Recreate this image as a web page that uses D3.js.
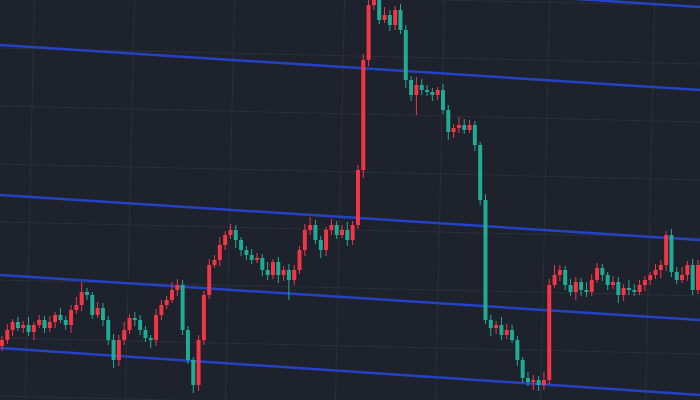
<!DOCTYPE html><html><head><meta charset="utf-8"><script src="https://cdn.jsdelivr.net/npm/d3@7"></script>
<style>body{margin:0;background:#1e222d}</style></head><body><svg id="c" width="700" height="400"></svg><script>
const closes=[60,70,78,72,75,68,75,80,72,78,85,80,75,90,95,108,105,85,92,80,60,40,60,70,82,80,70,62,60,85,95,100,110,115,70,40,15,60,105,135,140,155,165,170,160,150,145,140,142,130,125,138,125,130,120,130,150,170,175,160,150,170,175,165,170,160,175,230,340,395,400,380,385,375,390,370,320,305,315,310,308,305,310,290,268,272,275,270,275,255,200,80,72,75,65,70,60,40,22,18,20,15,20,115,125,130,115,108,118,110,108,120,132,125,115,118,105,112,110,108,115,120,125,130,135,165,128,120,125,135,110,135];
const wickUp=[4,6,3,5,4,8,3,5,4,6,3,7,4,5,8,10,4,3,6,5,4,6,5,8,4,6,5,4,3,6,5,4,8,6,5,4,3,5,4,6,5,8,4,6,5,3,4,6,5,4,8,3,5,4,6,5,4,6,8,5,4,3,6,4,5,8,4,5,6,10,4,6,8,5,4,6,5,4,8,6,5,4,3,6,5,4,8,6,5,4,3,6,5,4,8,6,5,4,3,6,5,4,8,6,10,5,4,6,5,4,8,6,5,4,3,6,5,4,8,6,5,4,3,6,5,4,6,5,8,4,6,5];
const wickDn=[5,4,6,3,5,4,8,3,5,4,6,3,5,8,4,6,5,4,3,6,5,8,6,5,4,6,5,4,8,6,5,4,3,6,5,4,8,6,5,4,3,6,5,4,8,6,5,4,3,6,5,4,8,6,20,5,4,6,5,4,8,6,5,4,3,6,5,4,8,6,5,4,3,6,5,4,8,6,20,5,4,6,5,4,8,6,5,4,3,6,5,4,8,6,5,4,3,6,5,4,8,6,5,4,3,6,5,4,8,6,5,4,3,6,5,4,8,6,5,4,3,6,5,4,8,6,5,4,3,6,5,4];
const blueLines=[[[0,355],[700,310]],[[0,205],[700,160]],[[0,125],[700,80]],[[0,52],[700,5]],[[560,402],[700,393]]];
const svg=d3.select("#c");
const W=700,H=400;
const x=d3.scaleBand().domain(d3.range(closes.length)).range([0,W]).paddingInner(0.25);
const y=d3.scaleLinear().domain([0,400]).range([H,0]);
// grid
const g=svg.append("g").attr("transform","rotate(1.3 350 200)");
[-70,30,130,230,340,440,545,650,760].forEach(v=>g.append("line").attr("x1",v).attr("x2",v).attr("y1",-50).attr("y2",450).attr("stroke","#2b2f3a"));
d3.range(-60,460,58).forEach(v=>g.append("line").attr("x1",-50).attr("x2",750).attr("y1",v).attr("y2",v).attr("stroke","#2b2f3a"));
svg.selectAll(".b").data(blueLines).join("line").attr("x1",d=>d[0][0]).attr("y1",d=>y(d[0][1])).attr("x2",d=>d[1][0]).attr("y2",d=>y(d[1][1])).attr("stroke","#2443c4").attr("stroke-width",2.5);
const data=closes.map((c,i)=>{const o=i?closes[i-1]:c-6;return{i,o,c,h:Math.max(o,c)+wickUp[i],l:Math.min(o,c)-wickDn[i]}});
const col=d=>d.c>=d.o?"#f23645":"#22ab94";
svg.selectAll(".w").data(data).join("line").attr("x1",d=>x(d.i)+x.bandwidth()/2).attr("x2",d=>x(d.i)+x.bandwidth()/2).attr("y1",d=>y(d.h)).attr("y2",d=>y(d.l)).attr("stroke",col).attr("stroke-width",1);
svg.selectAll(".r").data(data).join("rect").attr("x",d=>x(d.i)).attr("width",x.bandwidth()).attr("y",d=>y(Math.max(d.o,d.c))).attr("height",d=>Math.max(1,Math.abs(y(d.o)-y(d.c)))).attr("fill",col);
</script></body></html>
